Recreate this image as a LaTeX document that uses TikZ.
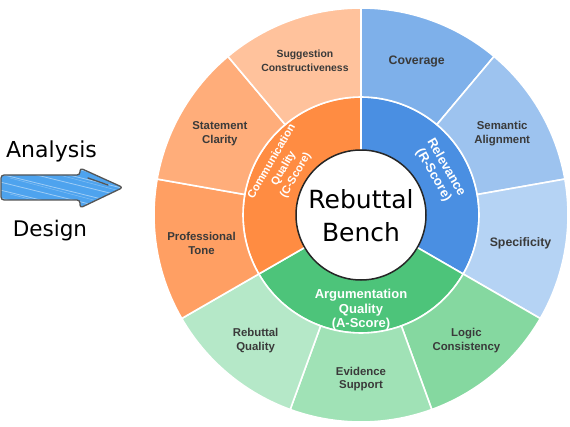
\documentclass[tikz,border=0pt]{standalone}
\usepackage{fontspec}
\setmainfont{Liberation Sans}
\newfontfamily\handfont{DejaVu Sans}
\usetikzlibrary{calc}
\definecolor{blueM}{HTML}{4A8FE2}
\definecolor{blueA}{HTML}{7EB0EA}
\definecolor{blueB}{HTML}{9DC3EF}
\definecolor{blueC}{HTML}{B5D3F4}
\definecolor{orangeM}{HTML}{FF8C42}
\definecolor{orangeA}{HTML}{FF9F63}
\definecolor{orangeB}{HTML}{FFAD7A}
\definecolor{orangeC}{HTML}{FFC29C}
\definecolor{greenM}{HTML}{4DC47A}
\definecolor{greenA}{HTML}{85D8A0}
\definecolor{greenB}{HTML}{A0E2B6}
\definecolor{greenC}{HTML}{B5E8C8}
\definecolor{labelgray}{HTML}{3A3A3A}
\definecolor{arrowblue}{HTML}{4EA3EE}
\definecolor{arrowedge}{HTML}{555555}
\newcommand\ringpart[5]{%
  \path[fill=#1, draw=white, line width=1.6pt, line join=round]
    ($(O)+(#2:#4)$) arc[start angle=#2, end angle=#3, radius=#4]
    -- ($(O)+(#3:#5)$) arc[start angle=#3, end angle=#2, radius=#5] -- cycle;}
\tikzset{
  outerlbl/.style={font=\bfseries\fontsize{11.4}{13.6}\selectfont, text=labelgray, align=center, inner sep=0pt},
  midlbl/.style={font=\bfseries\fontsize{13}{14.6}\selectfont, text=white, align=center, inner sep=0pt},
  handtxt/.style={font=\handfont\fontsize{22}{26}\selectfont, text=black, inner sep=0pt, anchor=base}
}
\begin{document}
\begin{tikzpicture}[x=1pt,y=1pt]
\useasboundingbox (0,0) rectangle (570,426);
\coordinate (O) at (361,211);
% middle ring
\ringpart{blueM}{90}{-30}{64}{118}
\ringpart{greenM}{-30}{-150}{64}{118}
\ringpart{orangeM}{210}{90}{64}{118}
% outer ring
\ringpart{blueA}{90}{50}{118}{207}
\ringpart{blueB}{50}{10}{118}{207}
\ringpart{blueC}{10}{-30}{118}{207}
\ringpart{greenA}{-30}{-70}{118}{207}
\ringpart{greenB}{-70}{-110}{118}{207}
\ringpart{greenC}{-110}{-150}{118}{207}
\ringpart{orangeA}{210}{170}{118}{207}
\ringpart{orangeB}{170}{130}{118}{207}
\ringpart{orangeC}{130}{90}{118}{207}
% inner circle
\node[circle, fill=white, draw=black!85, line width=1.5pt, minimum size=130pt, inner sep=0pt] (core) at (O) {};
\node[font=\handfont\fontsize{25}{33}\selectfont, align=center, inner sep=0pt] (title) at ($(O)+(0,-1)$) {Rebuttal\\Bench};
% middle labels
\node[midlbl, rotate=-60] (rel) at ($(O)+(29:90)$) {Relevance\\(R-Score)};
\node[midlbl] (arg) at ($(O)+(-90:95)$) {Argumentation\\Quality\\(A-Score)};
\node[midlbl, font=\bfseries\fontsize{11.2}{13.8}\selectfont, rotate=60] (com) at ($(O)+(149:90)$) {Communication\\Quality\\(C-Score)};
% outer labels
\node[outerlbl, font=\bfseries\fontsize{12.3}{14}\selectfont] (cov) at ($(O)+(70:163)$) {Coverage};
\node[outerlbl] (sem) at ($(O)+(30:163)$) {Semantic\\Alignment};
\node[outerlbl, font=\bfseries\fontsize{12.3}{14}\selectfont] (spe) at ($(O)+(-10:162)$) {Specificity};
\node[outerlbl] (log) at ($(O)+(-50:164)$) {Logic\\Consistency};
\node[outerlbl] (evi) at ($(O)+(-90:164)$) {Evidence\\Support};
\node[outerlbl] (reb) at ($(O)+(-130:164)$) {Rebuttal\\Quality};
\node[outerlbl] (pro) at ($(O)+(190:162)$) {Professional\\Tone};
\node[outerlbl] (sta) at ($(O)+(150:163)$) {Statement\\Clarity};
\node[outerlbl, font=\bfseries\fontsize{10.4}{13.8}\selectfont] (sug) at ($(O)+(110:164)$) {Suggestion\\Constructiveness};
% left arrow
\node[handtxt] (ana) at (51.5,268) {Analysis};
\node[handtxt, font=\handfont\fontsize{21.5}{26}\selectfont] (des) at (50,189) {Design};
\begin{scope}
  \path[clip, rounded corners=3pt] (1,251) -- (80,251) -- (80,258) -- (123,238.5) -- (80,218) -- (80,226) -- (1,226) -- cycle;
  \fill[arrowblue] (0,210) rectangle (130,265);
  \foreach \yy in {212,220,228,236,244,252,260,268,276} {
    \draw[white, opacity=0.45, line width=0.8pt] (0,\yy) -- (130,\yy-32);
  }
  \foreach \yy in {216,232,248,264} {
    \draw[white, opacity=0.3, line width=0.5pt] (10,\yy) -- (120,\yy-29);
  }
\end{scope}
\draw[arrowedge, line width=1.3pt, rounded corners=3pt, line join=round] (1,251) -- (80,251) -- (80,258) -- (123,238.5) -- (80,218) -- (80,226) -- (1,226) -- cycle;
\draw[arrowedge, line width=1.3pt, line cap=round] (88,248) -- (108,241);
\end{tikzpicture}
\end{document}
